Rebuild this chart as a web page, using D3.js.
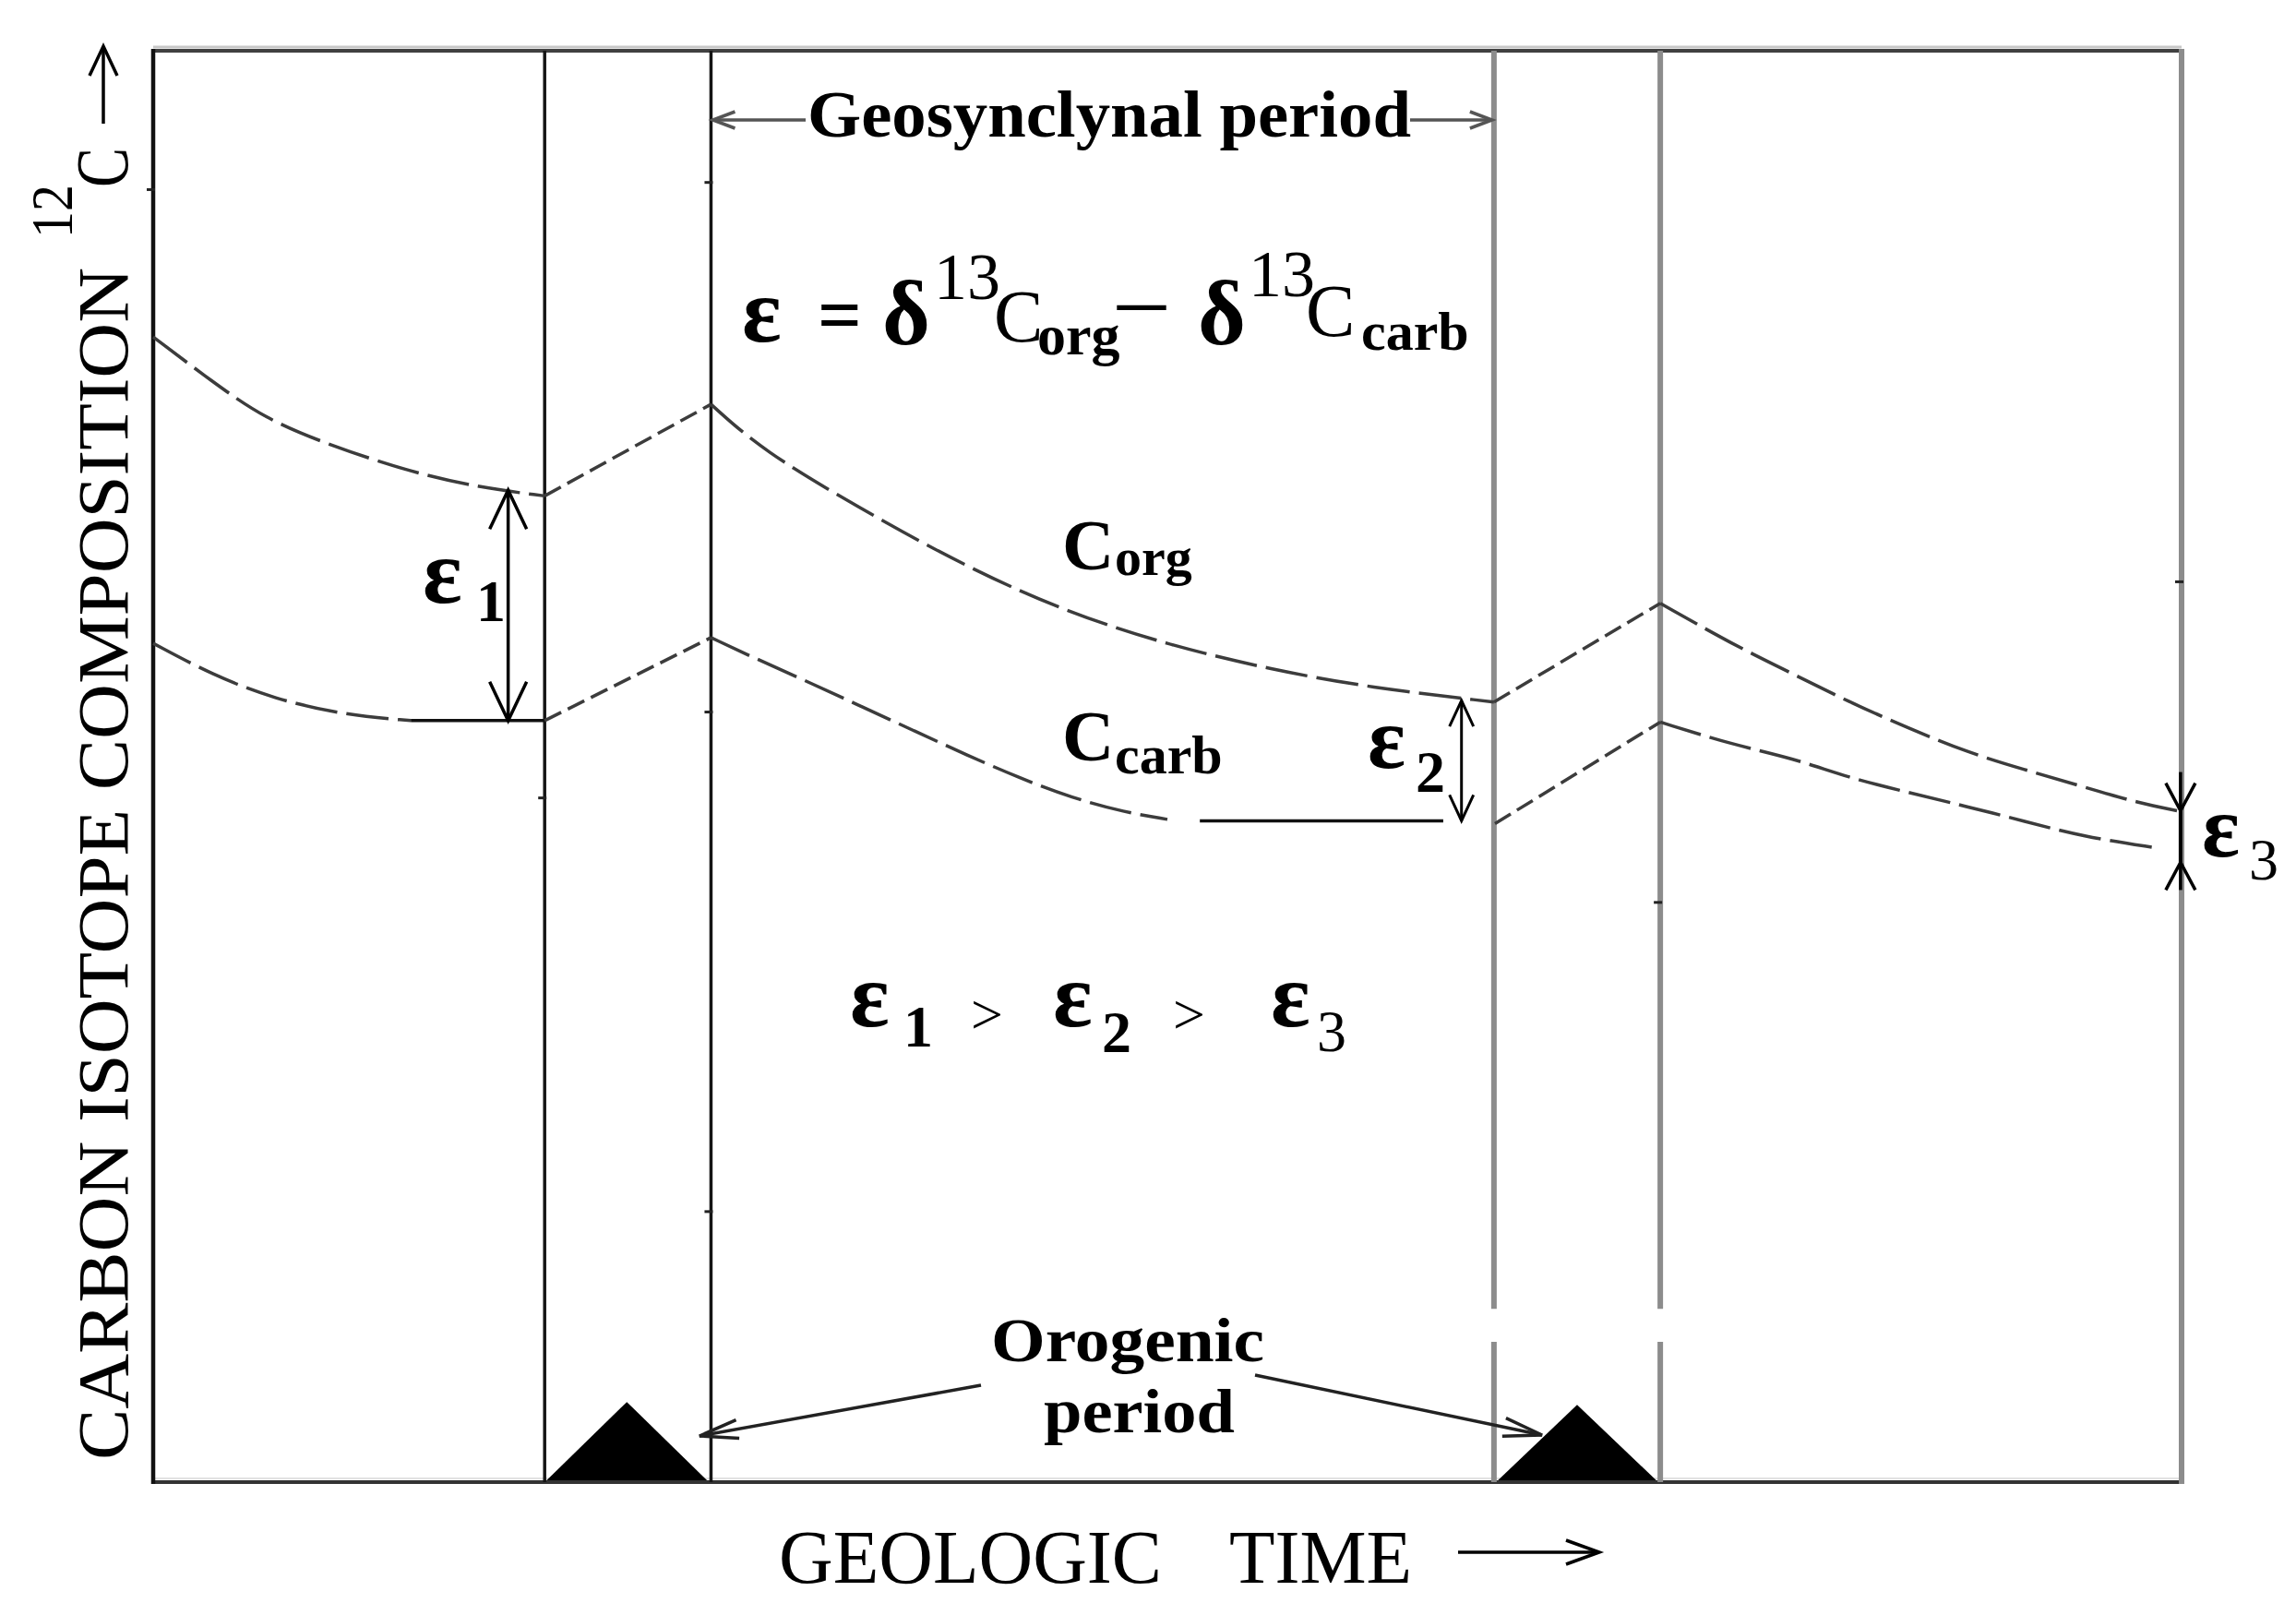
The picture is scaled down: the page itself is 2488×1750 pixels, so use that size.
<!DOCTYPE html>
<html>
<head>
<meta charset="utf-8">
<script src="https://cdn.jsdelivr.net/npm/d3@7"></script>
<style>
  html, body { margin: 0; padding: 0; background: #fff; }
  svg { display: block; font-family: "Liberation Serif", "Times New Roman", serif; }
</style>
</head>
<body>
<div id="chart"></div>
<script>
// Plot constants
const WIDTH = 2488;
const HEIGHT = 1750;

// geologic time runs 0..100 (left to right), 12C composition 0..100 (bottom to top)
const periodBounds = [19.3, 27.5, 66.1, 74.3];
const boundGap = [9.8, 12.1]; // white break in the grey boundaries
// orogenic mountains: start, end, height
const mountains = [[19.4, 27.3, 5.6], [66.3, 74.1, 5.4]];

// C org
const orgFall1Time = [0, 2.9, 5.5, 8.6, 12.6, 16.0, 19.3];
const orgFall1Value = [80.0, 76.9, 74.3, 72.5, 70.6, 69.5, 68.9];
const orgRise1Time = [19.3, 27.5];
const orgRise1Value = [68.9, 75.3];
const orgFall2Time = [27.5, 30, 35, 40, 45, 50, 55, 60, 66.1];
const orgFall2Value = [75.3, 72.1, 67.9, 64.0, 60.8, 58.5, 56.8, 55.5, 54.5];
const orgRise2Time = [66.1, 74.3];
const orgRise2Value = [54.5, 61.4];
const orgFall3Time = [74.3, 77.9, 80.8, 83.6, 86.5, 89.4, 92.2, 95.1, 98.0, 99.8];
const orgFall3Value = [61.4, 58.5, 56.5, 54.5, 52.7, 51.0, 49.8, 48.6, 47.4, 46.9];

// C carb
const carbFall1Time = [0, 2.9, 6.0, 9.4, 12.7];
const carbFall1Value = [58.6, 56.4, 54.7, 53.6, 53.2];
const carbFlat1Time = [12.7, 19.3];
const carbFlat1Value = [53.2, 53.2];
const carbRise1Time = [19.3, 27.5];
const carbRise1Value = [53.2, 59.0];
const carbFall2Time = [27.5, 29.6, 32.3, 34.9, 37.5, 40.1, 42.7, 45.3, 47.9, 50.0];
const carbFall2Value = [59.0, 57.6, 55.9, 54.2, 52.5, 50.8, 49.2, 47.8, 46.8, 46.3];
const carbFlat2Time = [51.6, 63.6];
const carbFlat2Value = [46.2, 46.2];
const carbRise2Time = [66.15, 74.3];
const carbRise2Value = [46.0, 53.1];
const carbFall3Time = [74.3, 77.9, 80.8, 83.6, 86.5, 89.4, 92.2, 95.1, 98.8];
const carbFall3Value = [53.1, 51.5, 50.6, 49.2, 48.2, 47.2, 46.2, 45.1, 44.3];

// epsilon spans: time, top, bottom
const eps1 = [17.5, 69.3, 53.2];
const eps2 = [64.5, 54.6, 46.2];
const eps3 = [99.95, 46.9, 43.3];

// stray tick marks left on the lines: time, value
const tickMarks = [[0, 90.3], [27.5, 90.8], [27.5, 53.8], [27.5, 18.9], [19.3, 47.8], [74.3, 40.5], [100, 62.9]];

const svg = d3.select("#chart").append("svg")
  .attr("width", WIDTH)
  .attr("height", HEIGHT);

svg.append("rect").attr("width", WIDTH).attr("height", HEIGHT).attr("fill", "#fff");

const x = d3.scaleLinear().domain([0, 100]).range([166, 2364]);
const y = d3.scaleLinear().domain([0, 100]).range([1606, 55]);

// open V arrow head at (x2,y2), pointing from (x1,y1)
function head(x1, y1, x2, y2, len, half) {
  const dx = x2 - x1, dy = y2 - y1, d = Math.hypot(dx, dy);
  const ux = dx / d, uy = dy / d;
  const bx = x2 - ux * len, by = y2 - uy * len;
  return `M${bx - uy * half},${by + ux * half}L${x2},${y2}L${bx + uy * half},${by - ux * half}`;
}

function arrow(g, x1, y1, x2, y2, len, half, color, w, both) {
  g.append("line").attr("x1", x1).attr("y1", y1).attr("x2", x2).attr("y2", y2)
    .attr("stroke", color).attr("stroke-width", w);
  g.append("path").attr("d", head(x1, y1, x2, y2, len, half))
    .attr("fill", "none").attr("stroke", color).attr("stroke-width", w);
  if (both) {
    g.append("path").attr("d", head(x2, y2, x1, y1, len, half))
      .attr("fill", "none").attr("stroke", color).attr("stroke-width", w);
  }
}

const g = svg.append("g");

// Frame
g.append("line").attr("x1", x(0)).attr("x2", x(100)).attr("y1", y(100) - 4).attr("y2", y(100) - 4)
  .attr("stroke", "#c8c8c8").attr("stroke-width", 3);
g.append("line").attr("x1", x(0)).attr("x2", x(100)).attr("y1", y(100)).attr("y2", y(100))
  .attr("stroke", "#404040").attr("stroke-width", 4);
g.append("line").attr("x1", x(0)).attr("x2", x(100)).attr("y1", y(0) - 4).attr("y2", y(0) - 4)
  .attr("stroke", "#e2e2e2").attr("stroke-width", 2);
g.append("line").attr("x1", x(0) - 2).attr("x2", x(100) + 3).attr("y1", y(0)).attr("y2", y(0))
  .attr("stroke", "#333").attr("stroke-width", 4);
g.append("line").attr("x1", x(0)).attr("x2", x(0)).attr("y1", y(100) - 2).attr("y2", y(0) + 2)
  .attr("stroke", "#111").attr("stroke-width", 4.5);
g.append("line").attr("x1", x(100)).attr("x2", x(100)).attr("y1", y(100) - 2).attr("y2", y(0) + 2)
  .attr("stroke", "#8c8c8c").attr("stroke-width", 6);

// Period boundaries
periodBounds.forEach((t, i) => {
  if (i < 2) {
    g.append("line").attr("x1", x(t)).attr("x2", x(t)).attr("y1", y(100)).attr("y2", y(0))
      .attr("stroke", "#151515").attr("stroke-width", 3.5);
  } else {
    [[boundGap[1], 100], [0, boundGap[0]]].forEach(([a, b]) => {
      g.append("line").attr("x1", x(t)).attr("x2", x(t)).attr("y1", y(b)).attr("y2", y(a))
        .attr("stroke", "#8c8c8c").attr("stroke-width", 6);
    });
  }
});

tickMarks.forEach(([t, v]) => {
  g.append("line").attr("x1", x(t) - 7).attr("x2", x(t) + 2).attr("y1", y(v)).attr("y2", y(v))
    .attr("stroke", "#222").attr("stroke-width", 3);
});

// Mountains
g.selectAll(".mountain").data(mountains).join("path")
  .attr("class", "mountain")
  .attr("d", d => `M${x(d[0])},${y(0) - 2}L${x((d[0] + d[1]) / 2)},${y(d[2])}L${x(d[1])},${y(0) - 2}Z`)
  .attr("fill", "#000");

// Curves
const smooth = d3.line().x(d => x(d[0])).y(d => y(d[1])).curve(d3.curveBasis);
const straight = d3.line().x(d => x(d[0])).y(d => y(d[1]));

const segments = [
  [orgFall1Time, orgFall1Value, "fall"],
  [orgRise1Time, orgRise1Value, "rise"],
  [orgFall2Time, orgFall2Value, "fall"],
  [orgRise2Time, orgRise2Value, "rise"],
  [orgFall3Time, orgFall3Value, "fall"],
  [carbFall1Time, carbFall1Value, "fall"],
  [carbFlat1Time, carbFlat1Value, "flat"],
  [carbRise1Time, carbRise1Value, "rise"],
  [carbFall2Time, carbFall2Value, "fall"],
  [carbFlat2Time, carbFlat2Value, "flat"],
  [carbRise2Time, carbRise2Value, "rise"],
  [carbFall3Time, carbFall3Value, "fall"],
];

segments.forEach(([t, v, kind]) => {
  const pts = d3.zip(t, v);
  g.append("path")
    .attr("d", kind === "fall" ? smooth(pts) : straight(pts))
    .attr("fill", "none")
    .attr("stroke", kind === "flat" ? "#111" : "#3c3c3c")
    .attr("stroke-width", 3.5)
    .attr("stroke-dasharray", kind === "fall" ? "46,10" : kind === "rise" ? "20,8" : null);
});

// Epsilon arrows
arrow(g, x(eps1[0]), y(eps1[2]), x(eps1[0]), y(eps1[1]), 42, 20, "#000", 3.5, true);
arrow(g, x(eps2[0]), y(eps2[2]), x(eps2[0]), y(eps2[1]), 28, 13, "#000", 3, true);
arrow(g, x(eps3[0]), y(eps3[1]) - 42, x(eps3[0]), y(eps3[1]), 30, 16, "#000", 3.5, false);
arrow(g, x(eps3[0]), y(eps3[2]) + 30, x(eps3[0]), y(eps3[2]), 30, 16, "#000", 3.5, false);
g.append("line").attr("x1", x(eps3[0])).attr("x2", x(eps3[0]))
  .attr("y1", y(eps3[1])).attr("y2", y(eps3[2]))
  .attr("stroke", "#000").attr("stroke-width", 4);

// Text helper
function label(parent, t, px, py, size, weight, len) {
  const el = parent.append("text").attr("x", px).attr("y", py)
    .attr("font-size", size).attr("font-weight", weight).attr("fill", "#000").text(t);
  if (len) el.attr("textLength", len).attr("lengthAdjust", "spacingAndGlyphs");
  return el;
}

// Y axis title
const yl = g.append("g");
label(yl.append("g").attr("transform", "translate(138,1582) rotate(-90)"),
  "CARBON ISOTOPE COMPOSITION", 0, 0, 79, 400, 1292);
label(yl.append("g").attr("transform", "translate(78,258) rotate(-90)"), "12", 0, 0, 64, 400, 58);
label(yl.append("g").attr("transform", "translate(138,203) rotate(-90)"), "C", 0, 0, 80, 400, 43);
arrow(yl, 112, 134, 112, 50, 32, 15, "#000", 3.5, false);

// X axis title
label(g, "GEOLOGIC", 844, 1715, 82, 400, 415);
label(g, "TIME", 1332, 1715, 82, 400, 198);
arrow(g, 1580, 1682, 1733, 1682, 36, 13, "#000", 3.5, false);

// Geosynclynal period
label(g, "Geosynclynal period", 875, 148, 72, 700, 654);
arrow(g, 873, 130, x(periodBounds[1]) + 2, 130, 24, 9, "#555", 3.5, false);
arrow(g, 1528, 130, x(periodBounds[2]) - 2, 130, 24, 9, "#555", 3.5, false);

// Formula
const formula = [
  ["\u03b5", 804, 370, 100, 700],
  ["=", 886, 370, 84, 700],
  ["\u03b4", 956, 373, 100, 700],
  ["13", 1012, 324, 72, 400],
  ["C", 1077, 370, 80, 400],
  ["org", 1124, 384, 62, 700],
  ["\u2013", 1211, 358, 104, 400],
  ["\u03b4", 1298, 373, 100, 700],
  ["13", 1353, 321, 72, 400],
  ["C", 1415, 364, 80, 400],
  ["carb", 1475, 379, 60, 700],
];
formula.forEach(f => label(g, f[0], f[1], f[2], f[3], f[4]));

// Curve labels
label(g, "C", 1151, 617, 78, 700);
label(g, "org", 1208, 623, 58, 700);
label(g, "C", 1151, 824, 78, 700);
label(g, "carb", 1208, 838, 60, 700);

// Epsilon labels
label(g, "\u03b5", 458, 653, 100, 700);
label(g, "1", 516, 673, 64, 700);
label(g, "\u03b5", 1482, 832, 96, 700);
label(g, "2", 1534, 858, 64, 700);
label(g, "\u03b5", 2386, 928, 96, 700);
label(g, "3", 2437, 953, 64, 400);

// Inequality
label(g, "\u03b5", 921, 1112, 100, 700);
label(g, "1", 979, 1134, 64, 700);
label(g, ">", 1052, 1120, 62, 400);
label(g, "\u03b5", 1141, 1112, 100, 700);
label(g, "2", 1194, 1140, 64, 700);
label(g, ">", 1271, 1120, 62, 400);
label(g, "\u03b5", 1377, 1112, 100, 700);
label(g, "3", 1427, 1139, 64, 400);

// Orogenic period
label(g, "Orogenic", 1074, 1475, 68, 700, 296);
label(g, "period", 1131, 1552, 68, 700, 207);
arrow(g, 1063, 1501, 758, 1556, 42, 10, "#222", 3.5, false);
arrow(g, 1360, 1490, 1671, 1555, 42, 10, "#222", 3.5, false);
</script>
</body>
</html>
